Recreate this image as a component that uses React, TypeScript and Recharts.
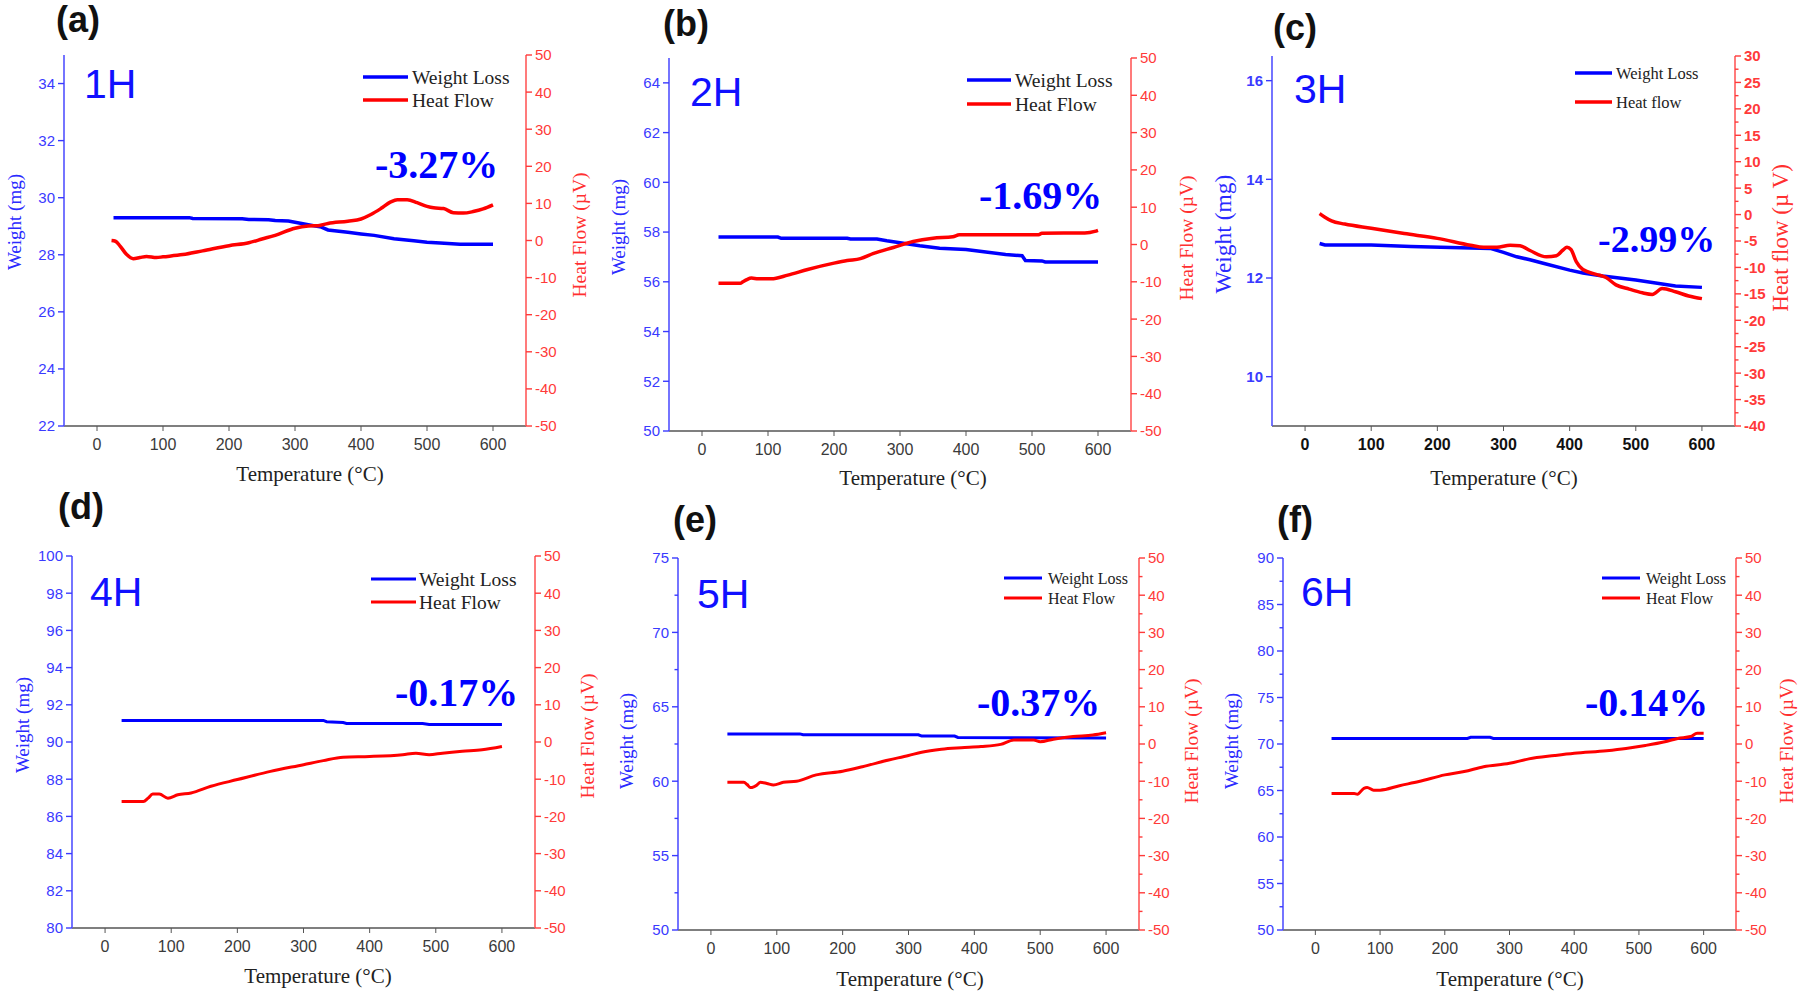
import React from "react";
import { Line, LineChart, XAxis, YAxis } from "recharts";

type Pt = [number, number];

const SANS = "'Liberation Sans', Arial, sans-serif";
const SERIF = "'Liberation Serif', 'Times New Roman', serif";

// temperature axis, shared by all six panels
const tempDomain: [number, number] = [-50, 650];
const tempTicks = [0, 100, 200, 300, 400, 500, 600];

// heat flow ticks (a, b, d: majors only; e, f: with minors)
const heatTicks = [-50, -40, -30, -20, -10, 0, 10, 20, 30, 40, 50];
const heatTicksMinor = [
  -50, -45, -40, -35, -30, -25, -20, -15, -10, -5, 0, 5, 10, 15, 20, 25, 30, 35, 40, 45, 50,
];

// (a) 1H
const weight1H: Pt[] = [
  [25, 29.3], [140, 29.3], [145, 29.27], [220, 29.26], [230, 29.24], [260, 29.23], [270, 29.2],
  [290, 29.18], [300, 29.14], [320, 29.05], [340, 28.97], [350, 28.87], [380, 28.79], [400, 28.73],
  [420, 28.68], [450, 28.56], [480, 28.49], [500, 28.44], [520, 28.41], [550, 28.37], [600, 28.37],
];
const heat1H: Pt[] = [
  [22, 0], [28, -0.2], [35, -1.5], [45, -3.8], [55, -4.9], [65, -4.6], [75, -4.3], [90, -4.6],
  [100, -4.4], [130, -3.8], [160, -2.8], [200, -1.4], [230, -0.6], [250, 0.4], [270, 1.4],
  [300, 3.3], [320, 3.9], [335, 4.0], [350, 4.6], [380, 5.2], [400, 5.8], [415, 7], [430, 8.6],
  [445, 10.4], [455, 11], [470, 11], [485, 10.2], [500, 9.2], [510, 8.8], [525, 8.6], [540, 7.5],
  [555, 7.4], [570, 7.8], [585, 8.5], [600, 9.6],
];
const weightTicks1H = [22, 24, 26, 28, 30, 32, 34];

// (b) 2H
const weight2H: Pt[] = [
  [25, 57.8], [115, 57.8], [120, 57.75], [220, 57.75], [225, 57.72], [265, 57.72], [280, 57.65],
  [300, 57.57], [330, 57.45], [360, 57.35], [400, 57.3], [430, 57.2], [460, 57.1], [485, 57.05],
  [490, 56.86], [515, 56.84], [520, 56.8], [600, 56.8],
];
const heat2H: Pt[] = [
  [25, -10.4], [58, -10.4], [62, -10.0], [68, -9.4], [75, -9.0], [85, -9.2], [105, -9.2],
  [130, -8.2], [160, -6.7], [200, -5], [220, -4.3], [240, -3.8], [260, -2.4], [290, -0.8],
  [320, 0.8], [350, 1.7], [380, 2.1], [390, 2.6], [510, 2.6], [515, 3.0], [580, 3.1], [595, 3.5],
  [600, 3.8],
];
const weightTicks2H = [50, 52, 54, 56, 58, 60, 62, 64];

// (c) 3H
const weight3H: Pt[] = [
  [22, 12.7], [30, 12.67], [100, 12.67], [160, 12.64], [280, 12.6], [300, 12.52], [320, 12.43],
  [340, 12.37], [360, 12.3], [400, 12.16], [420, 12.1], [450, 12.04], [500, 11.96], [530, 11.9],
  [560, 11.84], [600, 11.81],
];
const heat3H: Pt[] = [
  [22, 0.2], [30, -0.5], [40, -1.2], [60, -1.8], [100, -2.6], [150, -3.6], [200, -4.5],
  [250, -5.8], [270, -6.2], [290, -6.2], [310, -5.8], [325, -5.9], [340, -6.8], [365, -8],
  [380, -7.8], [390, -6.7], [396, -6.2], [402, -6.6], [410, -8.9], [420, -10.4], [440, -11.3],
  [455, -11.9], [470, -13.3], [490, -14.1], [510, -14.8], [525, -15.1], [540, -14], [560, -14.6],
  [580, -15.4], [600, -15.9],
];
const weightTicks3H = [10, 12, 14, 16];
const heatTicks3H = [
  -40, -37.5, -35, -32.5, -30, -27.5, -25, -22.5, -20, -17.5, -15, -12.5, -10, -7.5, -5, -2.5, 0,
  2.5, 5, 7.5, 10, 12.5, 15, 17.5, 20, 22.5, 25, 27.5, 30,
];

// (d) 4H
const weight4H: Pt[] = [
  [25, 91.16], [330, 91.16], [335, 91.09], [360, 91.05], [365, 91.0], [480, 91.0], [490, 90.94],
  [600, 90.94],
];
const heat4H: Pt[] = [
  [25, -16], [58, -16], [65, -15.1], [72, -14], [82, -14], [95, -15.1], [110, -14.2], [130, -13.7],
  [160, -11.9], [200, -10.1], [250, -7.9], [300, -6.1], [330, -5], [360, -4.1], [400, -3.9],
  [450, -3.4], [470, -3], [490, -3.4], [510, -3], [540, -2.5], [570, -2.1], [600, -1.2],
];
const weightTicks4H = [80, 82, 84, 86, 88, 90, 92, 94, 96, 98, 100];

// (e) 5H
const weight5H: Pt[] = [
  [25, 63.18], [135, 63.18], [140, 63.12], [315, 63.12], [320, 63.03], [370, 63.03], [375, 62.94],
  [600, 62.9],
];
const heat5H: Pt[] = [
  [25, -10.3], [50, -10.3], [55, -10.9], [60, -11.7], [65, -11.5], [70, -11], [75, -10.3],
  [85, -10.6], [95, -11], [110, -10.3], [130, -10], [160, -8.3], [200, -7.3], [230, -6.1],
  [270, -4.3], [300, -3.1], [320, -2.2], [350, -1.4], [380, -1], [410, -0.7], [440, -0.1],
  [460, 1.1], [490, 1.1], [500, 0.6], [520, 1.3], [550, 2], [580, 2.4], [600, 3],
];
const weightTicks5H = [50, 52.5, 55, 57.5, 60, 62.5, 65, 67.5, 70, 72.5, 75];

// (f) 6H
const weight6H: Pt[] = [
  [25, 70.6], [235, 70.6], [240, 70.72], [270, 70.72], [275, 70.6], [600, 70.6],
];
const heat6H: Pt[] = [
  [25, -13.3], [60, -13.3], [65, -13.5], [75, -11.9], [80, -11.7], [90, -12.4], [100, -12.4],
  [130, -11.2], [160, -10.1], [200, -8.3], [230, -7.4], [260, -6.1], [300, -5.2], [330, -4],
  [370, -3.1], [400, -2.5], [450, -1.8], [480, -1.2], [510, -0.4], [540, 0.6], [560, 1.5],
  [580, 2], [590, 2.9], [600, 2.9],
];
const weightTicks6H = [
  50, 52.5, 55, 57.5, 60, 62.5, 65, 67.5, 70, 72.5, 75, 77.5, 80, 82.5, 85, 87.5, 90,
];

const BLUE_AXIS = "#5252ff";
const RED_AXIS = "#ff5a5a";

function YTick(props: any) {
  const { x, y, payload, side, major, color, bold } = props;
  const v = payload.value as number;
  const isMajor = Math.abs(v / major - Math.round(v / major)) < 1e-6;
  const dir = side === "left" ? -1 : 1;
  const ax = x - dir * 9; // axis line position (tickSize 6 + tickMargin 3)
  const len = isMajor ? 6 : 3.5;
  return (
    <g>
      <line x1={ax} y1={y} x2={ax + dir * len} y2={y} stroke={color} strokeWidth={1.4} />
      {isMajor && (
        <text
          x={x}
          y={y}
          dy="0.36em"
          textAnchor={side === "left" ? "end" : "start"}
          fill={color}
          fontSize={15}
          fontWeight={bold ? 700 : 400}
          fontFamily={SANS}
        >
          {v}
        </text>
      )}
    </g>
  );
}

type PanelProps = {
  box: [number, number, number, number];
  weight: Pt[];
  heat: Pt[];
  wDomain: [number, number];
  wTicks: number[];
  wMajor: number;
  hDomain: [number, number];
  hTicks: number[];
  hMajor: number;
  bold?: boolean;
  lineW: number;
};

function Panel(p: PanelProps) {
  const [l, t, r, b] = p.box;
  const LW = 60, RW = 60, MT = 12, XH = 45;
  const wData = p.weight.map(([x, v]) => ({ t: x, v }));
  const hData = p.heat.map(([x, v]) => ({ t: x, v }));
  const tickColor = p.bold ? "#111" : "#3a3a3a";
  return (
    <div style={{ position: "absolute", left: l - LW, top: t - MT }}>
      <LineChart
        width={r - l + LW + RW}
        height={b - t + MT + XH}
        margin={{ top: MT, right: 0, bottom: 0, left: 0 }}
      >
        <XAxis
          xAxisId="top"
          orientation="top"
          type="number"
          dataKey="t"
          domain={tempDomain}
          ticks={[]}
          tick={false}
          tickLine={false}
          height={0}
          axisLine={{ stroke: "#444", strokeWidth: 1.5 }}
          allowDataOverflow
        />
        <XAxis
          type="number"
          dataKey="t"
          domain={tempDomain}
          ticks={tempTicks}
          interval={0}
          height={XH}
          tickSize={5}
          tickMargin={8}
          tick={{ fill: tickColor, fontSize: 16, fontWeight: p.bold ? 700 : 400, fontFamily: SANS }}
          tickLine={{ stroke: "#555" }}
          axisLine={{ stroke: "#555", strokeWidth: 1.5 }}
          allowDataOverflow
        />
        <YAxis
          yAxisId="w"
          orientation="left"
          width={LW}
          domain={p.wDomain}
          ticks={p.wTicks}
          interval={0}
          tickSize={6}
          tickMargin={3}
          tickLine={false}
          axisLine={{ stroke: BLUE_AXIS, strokeWidth: 1.6 }}
          tick={(tp: any) => (
            <YTick {...tp} side="left" major={p.wMajor} color="#3a3aff" bold={p.bold} />
          )}
          allowDataOverflow
        />
        <YAxis
          yAxisId="h"
          orientation="right"
          width={RW}
          domain={p.hDomain}
          ticks={p.hTicks}
          interval={0}
          tickSize={6}
          tickMargin={3}
          tickLine={false}
          axisLine={{ stroke: RED_AXIS, strokeWidth: 1.6 }}
          tick={(tp: any) => (
            <YTick {...tp} side="right" major={p.hMajor} color="#ff3a3a" bold={p.bold} />
          )}
          allowDataOverflow
        />
        <Line
          yAxisId="w"
          data={wData}
          dataKey="v"
          type="linear"
          stroke="#0000ff"
          strokeWidth={p.lineW}
          dot={false}
          isAnimationActive={false}
        />
        <Line
          yAxisId="h"
          data={hData}
          dataKey="v"
          type="monotone"
          stroke="#ff0000"
          strokeWidth={p.lineW}
          dot={false}
          isAnimationActive={false}
        />
      </LineChart>
    </div>
  );
}

type DecoProps = {
  letter: string; lx: number; ly: number;
  tag: string; gx: number; gy: number;
  lg: { x1: number; x2: number; y1: number; y2: number; tx: number; b1: number; b2: number; fs: number; w: number };
  lgText: [string, string];
  pct: string; px: number; py: number; pfs: number;
  wx: number; wy: number; wfs: number;
  hText: string; hx: number; hy: number; hfs: number;
  tx: number; ty: number;
};

function Deco(d: DecoProps) {
  return (
    <g>
      <text x={d.lx} y={d.ly} fontFamily={SANS} fontWeight={700} fontSize={36} fill="#111">
        {d.letter}
      </text>
      <text x={d.gx} y={d.gy} fontFamily={SANS} fontSize={41} fill="#1010ff">
        {d.tag}
      </text>
      <line x1={d.lg.x1} x2={d.lg.x2} y1={d.lg.y1} y2={d.lg.y1} stroke="#0000ff" strokeWidth={d.lg.w} />
      <line x1={d.lg.x1} x2={d.lg.x2} y1={d.lg.y2} y2={d.lg.y2} stroke="#ff0000" strokeWidth={d.lg.w} />
      <text x={d.lg.tx} y={d.lg.b1} fontFamily={SERIF} fontSize={d.lg.fs} fill="#222">
        {d.lgText[0]}
      </text>
      <text x={d.lg.tx} y={d.lg.b2} fontFamily={SERIF} fontSize={d.lg.fs} fill="#222">
        {d.lgText[1]}
      </text>
      <text x={d.px} y={d.py} fontFamily={SERIF} fontWeight={700} fontSize={d.pfs} fill="#0000ff">
        {d.pct}
      </text>
      <text
        transform={`translate(${d.wx},${d.wy}) rotate(-90)`}
        textAnchor="middle"
        fontFamily={SERIF}
        fontSize={d.wfs}
        fill="#2a2aff"
      >
        Weight (mg)
      </text>
      <text
        transform={`translate(${d.hx},${d.hy}) rotate(-90)`}
        textAnchor="middle"
        fontFamily={SERIF}
        fontSize={d.hfs}
        fill="#ff3030"
      >
        {d.hText}
      </text>
      <text x={d.tx} y={d.ty} textAnchor="middle" fontFamily={SERIF} fontSize={21} fill="#222">
        Temperature (°C)
      </text>
    </g>
  );
}

export default function App() {
  return (
    <div
      style={{
        position: "absolute",
        left: 0,
        top: 0,
        width: 1811,
        height: 998,
        background: "#fff",
        overflow: "hidden",
      }}
    >
      <Panel box={[64, 55, 526, 426]} weight={weight1H} heat={heat1H} wDomain={[22, 35]} wTicks={weightTicks1H} wMajor={2} hDomain={[-50, 50]} hTicks={heatTicks} hMajor={10} lineW={3.5} />
      <Panel box={[669, 58, 1131, 431]} weight={weight2H} heat={heat2H} wDomain={[50, 65]} wTicks={weightTicks2H} wMajor={2} hDomain={[-50, 50]} hTicks={heatTicks} hMajor={10} lineW={3.5} />
      <Panel box={[1272, 56, 1735, 426]} weight={weight3H} heat={heat3H} wDomain={[9, 16.5]} wTicks={weightTicks3H} wMajor={2} hDomain={[-40, 30]} hTicks={heatTicks3H} hMajor={5} bold lineW={3.5} />
      <Panel box={[72, 556, 535, 928]} weight={weight4H} heat={heat4H} wDomain={[80, 100]} wTicks={weightTicks4H} wMajor={2} hDomain={[-50, 50]} hTicks={heatTicks} hMajor={10} lineW={3} />
      <Panel box={[678, 558, 1139, 930]} weight={weight5H} heat={heat5H} wDomain={[50, 75]} wTicks={weightTicks5H} wMajor={5} hDomain={[-50, 50]} hTicks={heatTicksMinor} hMajor={10} lineW={3} />
      <Panel box={[1283, 558, 1736, 930]} weight={weight6H} heat={heat6H} wDomain={[50, 90]} wTicks={weightTicks6H} wMajor={5} hDomain={[-50, 50]} hTicks={heatTicksMinor} hMajor={10} lineW={3} />

      <svg
        width={1811}
        height={998}
        style={{ position: "absolute", left: 0, top: 0, pointerEvents: "none" }}
      >
        <Deco letter="(a)" lx={56} ly={32} tag="1H" gx={84} gy={98}
          lg={{ x1: 363, x2: 408, y1: 77, y2: 100, tx: 412, b1: 84, b2: 107, fs: 19.5, w: 3.5 }}
          lgText={["Weight Loss", "Heat Flow"]} pct="-3.27%" px={375} py={178} pfs={40}
          wx={21} wy={222} wfs={19} hText="Heat Flow (µV)" hx={586} hy={235} hfs={19.5} tx={310} ty={481} />
        <Deco letter="(b)" lx={663} ly={35.5} tag="2H" gx={690} gy={106}
          lg={{ x1: 967, x2: 1011, y1: 80, y2: 104, tx: 1015, b1: 87, b2: 110.5, fs: 19.5, w: 3.5 }}
          lgText={["Weight Loss", "Heat Flow"]} pct="-1.69%" px={979} py={209} pfs={40}
          wx={625} wy={227} wfs={19} hText="Heat Flow (µV)" hx={1193} hy={238} hfs={19.5} tx={913} ty={485} />
        <Deco letter="(c)" lx={1273} ly={39.5} tag="3H" gx={1294} gy={103}
          lg={{ x1: 1575, x2: 1612, y1: 73, y2: 102, tx: 1616, b1: 79, b2: 108, fs: 16.5, w: 3.5 }}
          lgText={["Weight Loss", "Heat flow"]} pct="-2.99%" px={1598} py={251.5} pfs={38}
          wx={1231} wy={234} wfs={23.5} hText="Heat flow (µ V)" hx={1788} hy={238} hfs={23} tx={1504} ty={485} />
        <Deco letter="(d)" lx={58} ly={518.5} tag="4H" gx={90} gy={606}
          lg={{ x1: 371, x2: 416, y1: 579, y2: 602, tx: 419, b1: 585.5, b2: 608.5, fs: 19.5, w: 3.2 }}
          lgText={["Weight Loss", "Heat Flow"]} pct="-0.17%" px={395} py={706} pfs={40}
          wx={28.5} wy={725} wfs={19} hText="Heat Flow (µV)" hx={594} hy={736} hfs={19.5} tx={318} ty={983} />
        <Deco letter="(e)" lx={673} ly={532} tag="5H" gx={697} gy={608}
          lg={{ x1: 1004, x2: 1042, y1: 578, y2: 598, tx: 1048, b1: 584, b2: 603.5, fs: 16, w: 3 }}
          lgText={["Weight Loss", "Heat Flow"]} pct="-0.37%" px={977} py={716} pfs={40}
          wx={632.5} wy={741} wfs={19} hText="Heat Flow (µV)" hx={1198} hy={741} hfs={19.5} tx={910} ty={986} />
        <Deco letter="(f)" lx={1277} ly={532} tag="6H" gx={1301} gy={606}
          lg={{ x1: 1602, x2: 1640, y1: 578, y2: 598, tx: 1646, b1: 584, b2: 603.5, fs: 16, w: 3 }}
          lgText={["Weight Loss", "Heat Flow"]} pct="-0.14%" px={1585} py={716} pfs={40}
          wx={1237.5} wy={741} wfs={19} hText="Heat Flow (µV)" hx={1793} hy={741} hfs={19.5} tx={1510} ty={986} />
      </svg>
    </div>
  );
}
